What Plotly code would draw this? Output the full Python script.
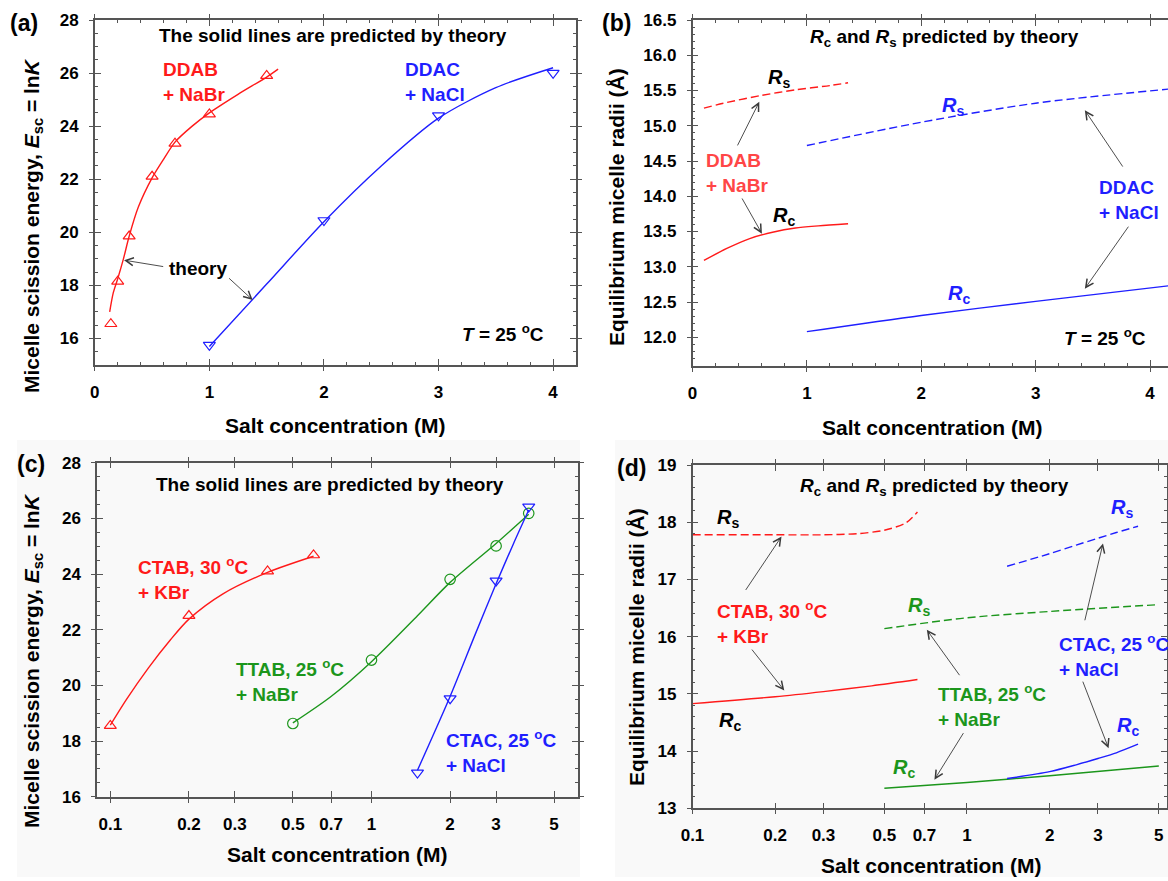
import math
import plotly.graph_objects as go

# ---------------- data ----------------
# (a) scission energy vs salt, linear x
a_ddab_x = [0.14, 0.2, 0.3, 0.5, 0.7, 1.0, 1.5]
a_ddab_y = [16.55, 18.15, 19.85, 22.1, 23.35, 24.45, 25.9]
a_ddab_th_x = [0.13, 0.16, 0.2, 0.25, 0.3, 0.38, 0.5, 0.6, 0.7, 0.85, 1.0, 1.25, 1.5, 1.6]
a_ddab_th_y = [17.0, 17.7, 18.25, 19.0, 19.85, 20.95, 22.05, 22.75, 23.4, 24.0, 24.5, 25.2, 25.85, 26.15]
a_ddac_x = [1.0, 2.0, 3.0, 4.0]
a_ddac_y = [15.75, 20.45, 24.4, 26.0]
a_ddac_th_x = [1.0, 1.5, 2.0, 2.5, 3.0, 3.5, 4.0]
a_ddac_th_y = [15.7, 18.05, 20.4, 22.5, 24.3, 25.45, 26.2]

# (b) radii vs salt, linear x
b_ddab_rs_x = [0.1, 0.3, 0.6, 0.9, 1.2, 1.36]
b_ddab_rs_y = [15.25, 15.33, 15.43, 15.51, 15.57, 15.61]
b_ddab_rc_x = [0.1, 0.3, 0.5, 0.7, 0.9, 1.1, 1.36]
b_ddab_rc_y = [13.09, 13.26, 13.40, 13.49, 13.55, 13.58, 13.61]
b_ddac_rs_x = [1.0, 2.0, 3.0, 4.16]
b_ddac_rs_y = [14.72, 15.05, 15.32, 15.52]
b_ddac_rc_x = [1.0, 2.0, 3.0, 4.16]
b_ddac_rc_y = [12.08, 12.31, 12.51, 12.73]

# (c) scission energy vs salt, log x
c_ctab_x = [0.1, 0.2, 0.4, 0.6]
c_ctab_y = [18.55, 22.5, 24.1, 24.68]
c_ctab_th_x = [0.1, 0.115, 0.14, 0.17, 0.2, 0.27, 0.4, 0.6]
c_ctab_th_y = [18.57, 19.48, 20.63, 21.64, 22.38, 23.29, 24.06, 24.64]
c_ttab_x = [0.5, 1.0, 2.0, 3.0, 4.0]
c_ttab_y = [18.63, 20.91, 23.81, 25.01, 26.18]
c_ttab_th_x = [0.5, 0.7, 1.0, 1.5, 2.0, 3.0, 4.0]
c_ttab_th_y = [18.65, 19.6, 20.85, 22.5, 23.7, 25.1, 26.15]
c_ctac_x = [1.5, 2.0, 3.0, 4.0]
c_ctac_y = [16.86, 19.53, 23.76, 26.42]
c_ctac_th_x = [1.5, 2.0, 2.5, 3.0, 3.5, 4.0]
c_ctac_th_y = [16.95, 19.6, 21.85, 23.65, 25.1, 26.3]

# (d) radii vs salt, log x
d_ctab_rs_x = [0.1, 0.2, 0.3, 0.4, 0.5, 0.6, 0.66]
d_ctab_rs_y = [17.78, 17.78, 17.78, 17.80, 17.86, 17.99, 18.18]
d_ctab_rc_x = [0.1, 0.2, 0.3, 0.45, 0.66]
d_ctab_rc_y = [14.83, 14.95, 15.04, 15.14, 15.25]
d_ttab_rs_x = [0.5, 1.0, 2.0, 5.0]
d_ttab_rs_y = [16.14, 16.33, 16.44, 16.56]
d_ttab_rc_x = [0.5, 1.0, 2.0, 5.0]
d_ttab_rc_y = [13.35, 13.45, 13.57, 13.74]
d_ctac_rs_x = [1.4, 2.0, 2.5, 3.0, 3.5, 4.2]
d_ctac_rs_y = [17.23, 17.45, 17.60, 17.72, 17.82, 17.93]
d_ctac_rc_x = [1.4, 2.0, 2.5, 3.0, 3.5, 4.2]
d_ctac_rc_y = [13.52, 13.64, 13.76, 13.87, 13.97, 14.12]

log_tickvals = [0.1, 0.2, 0.3, 0.5, 0.7, 1, 2, 3, 5]
log_ticktext = ["0.1", "0.2", "0.3", "0.5", "0.7", "1", "2", "3", "5"]

# ---------------- styling ----------------
FONT = "Liberation Sans, Arial, Helvetica, sans-serif"
RED = "#ff1a1a"
RED_B = "#ff4646"
BLUE = "#1f1fff"
GREEN = "#1c961c"
AXC = "#555555"
ARC = "#3a3a3a"

REFS = {1: ("x", "y"), 2: ("x2", "y2"), 3: ("x3", "y3"), 4: ("x4", "y4")}
LOGP = {3, 4}

fig = go.Figure()


def line(p, x, y, color, dash="solid", width=1.4):
    xr, yr = REFS[p]
    fig.add_trace(go.Scatter(x=x, y=y, xaxis=xr, yaxis=yr, mode="lines",
                             line=dict(color=color, width=width, dash=dash, shape="spline", smoothing=0.8),
                             showlegend=False, hoverinfo="skip"))


def marks(p, x, y, color, symbol):
    xr, yr = REFS[p]
    fig.add_trace(go.Scatter(x=x, y=y, xaxis=xr, yaxis=yr, mode="markers",
                             marker=dict(symbol=symbol, size=10.5, color=color, line=dict(color=color, width=1.2)),
                             showlegend=False, hoverinfo="skip"))


def tx(p, v):
    return math.log10(v) if p in LOGP else v


def text(p, s, x, y, color="black", size=19, xanchor="center"):
    xr, yr = REFS[p]
    fig.add_annotation(x=tx(p, x), y=y, xref=xr, yref=yr, text=s, showarrow=False,
                       xanchor=xanchor, yanchor="middle", align="left",
                       font=dict(color=color, size=size, family=FONT, weight="bold"))


def arrow(p, x0, y0, x1, y1):
    xr, yr = REFS[p]
    fig.add_annotation(x=tx(p, x1), y=y1, ax=tx(p, x0), ay=y0, xref=xr, yref=yr, axref=xr, ayref=yr,
                       text="", showarrow=True, arrowhead=5, arrowsize=1.7, arrowwidth=0.9,
                       arrowcolor=ARC, standoff=0, startstandoff=0)


# panel (a)
line(1, a_ddab_th_x, a_ddab_th_y, RED)
marks(1, a_ddab_x, a_ddab_y, RED, "triangle-up-open")
line(1, a_ddac_th_x, a_ddac_th_y, BLUE)
marks(1, a_ddac_x, a_ddac_y, BLUE, "triangle-down-open")
# panel (b)
line(2, b_ddab_rs_x, b_ddab_rs_y, RED, dash="8px,4px")
line(2, b_ddab_rc_x, b_ddab_rc_y, RED)
line(2, b_ddac_rs_x, b_ddac_rs_y, BLUE, dash="8px,4px")
line(2, b_ddac_rc_x, b_ddac_rc_y, BLUE)
# panel (c)
line(3, c_ctab_th_x, c_ctab_th_y, RED)
marks(3, c_ctab_x, c_ctab_y, RED, "triangle-up-open")
line(3, c_ttab_th_x, c_ttab_th_y, GREEN)
marks(3, c_ttab_x, c_ttab_y, GREEN, "circle-open")
line(3, c_ctac_th_x, c_ctac_th_y, BLUE)
marks(3, c_ctac_x, c_ctac_y, BLUE, "triangle-down-open")
# panel (d)
line(4, d_ctab_rs_x, d_ctab_rs_y, RED, dash="8px,4px")
line(4, d_ctab_rc_x, d_ctab_rc_y, RED)
line(4, d_ttab_rs_x, d_ttab_rs_y, GREEN, dash="8px,4px")
line(4, d_ttab_rc_x, d_ttab_rc_y, GREEN)
line(4, d_ctac_rs_x, d_ctac_rs_y, BLUE, dash="8px,4px")
line(4, d_ctac_rc_x, d_ctac_rc_y, BLUE)

# dummy traces so the overlay (crossing-tick) axes are drawn
for k in range(1, 5):
    xr, yr = REFS[k]
    fig.add_trace(go.Scatter(x=[None], y=[None], xaxis=f"x{k+4}", yaxis=yr, showlegend=False, hoverinfo="skip"))
    fig.add_trace(go.Scatter(x=[None], y=[None], xaxis=xr, yaxis=f"y{k+4}", showlegend=False, hoverinfo="skip"))

# ---------------- annotations ----------------
RS = "<i>R</i><sub>s</sub>"
RC = "<i>R</i><sub>c</sub>"
TEMP = "<i>T</i> = 25 <sup>o</sup>C"

text(1, "The solid lines are predicted by theory", 2.08, 27.43)
text(1, "DDAB<br>+ NaBr", 0.578, 25.65, RED, xanchor="left")
text(1, "DDAC<br>+ NaCl", 2.69, 25.65, BLUE, xanchor="left")
text(1, "theory", 0.904, 18.64)
text(1, TEMP, 3.56, 16.19)
arrow(1, 0.61, 18.70, 0.255, 18.95)
arrow(1, 1.159, 18.32, 1.378, 17.45)

text(2, RC + " and " + RS + " predicted by theory", 2.20, 16.24)
text(2, RS, 0.754, 15.67, size=20)
text(2, RC, 0.80, 13.71, size=20)
text(2, "DDAB<br>+ NaBr", 0.098, 14.33, RED_B, xanchor="left")
text(2, RS, 2.28, 15.28, BLUE, size=20)
text(2, RC, 2.33, 12.60, BLUE, size=20)
text(2, "DDAC<br>+ NaCl", 3.54, 13.95, BLUE, xanchor="left")
text(2, TEMP, 3.61, 12.0)
arrow(2, 0.387, 14.70, 0.584, 15.34)
arrow(2, 0.426, 13.99, 0.607, 13.47)
arrow(2, 3.77, 14.40, 3.43, 15.22)
arrow(2, 3.82, 13.59, 3.43, 12.69)

text(3, "The solid lines are predicted by theory", 0.691, 27.2)
text(3, "CTAB, 30 <sup>o</sup>C<br>+ KBr", 0.1257, 23.85, RED, xanchor="left")
text(3, "TTAB, 25 <sup>o</sup>C<br>+ NaBr", 0.298, 20.18, GREEN, xanchor="left")
text(3, "CTAC, 25 <sup>o</sup>C<br>+ NaCl", 1.89, 17.62, BLUE, xanchor="left")

text(4, RC + " and " + RS + " predicted by theory", 0.760, 18.62)
text(4, RS, 0.135, 18.07, size=20)
text(4, RC, 0.137, 14.51, size=20)
text(4, "CTAB, 30 <sup>o</sup>C<br>+ KBr", 0.121, 16.25, RED, xanchor="left")
text(4, RS, 0.671, 16.52, GREEN, size=20)
text(4, RC, 0.591, 13.70, GREEN, size=20)
text(4, "TTAB, 25 <sup>o</sup>C<br>+ NaBr", 0.768, 14.79, GREEN, xanchor="left")
text(4, RS, 3.67, 18.24, BLUE, size=20)
text(4, RC, 3.87, 14.43, BLUE, size=20)
text(4, "CTAC, 25 <sup>o</sup>C<br>+ NaCl", 2.13, 15.67, BLUE, xanchor="left")
arrow(4, 0.155, 16.79, 0.211, 17.75)
arrow(4, 0.163, 15.80, 0.216, 15.06)
arrow(4, 0.948, 15.30, 0.714, 16.12)
arrow(4, 0.978, 14.34, 0.761, 13.50)
arrow(4, 2.68, 16.26, 3.13, 17.63)
arrow(4, 2.63, 15.24, 3.28, 14.05)

W, H = 1168, 881


def paper_text(s, px, py, size, angle=0):
    fig.add_annotation(x=px / W, y=1 - py / H, xref="paper", yref="paper", text=s, showarrow=False,
                       xanchor="center", yanchor="middle", textangle=angle,
                       font=dict(size=size, family=FONT, color="black", weight="bold"))


for lab, px, py in [("(a)", 24, 23), ("(b)", 616, 23), ("(c)", 31, 464), ("(d)", 631, 468)]:
    paper_text(lab, px, py, 23)

# axis titles (placed as in the reference)
XT = "Salt concentration (M)"
YT_E = "Micelle scission energy, <i>E</i><sub>sc</sub> = ln<i>K</i>"
YT_R = "Equilibrium micelle radii (Å)"
paper_text(XT, 335, 425, 21)
paper_text(XT, 932, 427, 21)
paper_text(XT, 337, 854, 21)
paper_text(XT, 931, 865, 21)
paper_text(YT_E, 33, 226, 21, -90)
paper_text(YT_R, 617, 207, 21, -90)
paper_text(YT_E, 33, 661, 21, -90)
paper_text(YT_R, 636, 647, 21, -90)

# light grey background of the lower half
for x0, x1 in [(17, 580), (615, 1168)]:
    fig.add_shape(type="rect", xref="paper", yref="paper", x0=x0 / W, x1=x1 / W, y0=1 - 877 / H, y1=1 - 440 / H,
                  fillcolor="#f9f9f9", line=dict(width=0), layer="below")

# ---------------- axes ----------------
TF = dict(size=17, family=FONT, color="black", weight="bold")


def base(domain, rng, anchor, mirror=True, **kw):
    d = dict(domain=domain, range=rng, anchor=anchor, showline=True, linecolor=AXC, linewidth=1.5,
             ticks="inside", ticklen=6, tickwidth=1.2, tickcolor=AXC, mirror="ticks" if mirror else False,
             showgrid=False, zeroline=False, tickfont=TF, ticklabelstandoff=11, automargin=False)
    d.update(kw)
    return d


def over(overlay, anchor, rng, mirror=True, **kw):
    d = dict(overlaying=overlay, anchor=anchor, range=rng, showline=False, ticks="outside", ticklen=5,
             tickwidth=1.2, tickcolor=AXC, mirror="ticks" if mirror else False, showgrid=False,
             zeroline=False, showticklabels=False, automargin=False)
    d.update(kw)
    return d


def px_x(a, b):
    return [a / W, min(b / W, 1.0)]


def px_y(top, bot):
    return [1 - bot / H, 1 - top / H]


minor_lin = lambda dt: dict(dtick=dt, ticks="inside", ticklen=3, tickwidth=1, tickcolor=AXC)

ra_x, ra_y = [0, 4.2], [15, 28]
rb_x, rb_y = [0, 4.157], [11.6, 16.5]
rc_x, rc_y = [-1.051, 0.790], [16, 28]
rd_x, rd_y = [-1.0, 0.728], [13, 19]

fig.update_layout(
    xaxis=base(px_x(94.8, 576), ra_x, "y", dtick=1, tick0=0, minor=minor_lin(0.2)),
    yaxis=base(px_y(20, 365), ra_y, "x", dtick=2, tick0=0, minor=minor_lin(0.5)),
    xaxis2=base(px_x(692.5, 1168), rb_x, "y2", dtick=1, tick0=0, minor=minor_lin(0.2)),
    yaxis2=base(px_y(20, 365.5), rb_y, "x2", mirror=False, dtick=0.5, tick0=0, tickformat=".1f",
                minor=minor_lin(0.1)),
    xaxis3=base(px_x(97, 577.8), rc_x, "y3", type="log", tickvals=log_tickvals, ticktext=log_ticktext),
    yaxis3=base(px_y(462.7, 796.7), rc_y, "x3", dtick=2, tick0=0, minor=minor_lin(0.5)),
    xaxis4=base(px_x(692.5, 1166.8), rd_x, "y4", type="log", tickvals=log_tickvals, ticktext=log_ticktext),
    yaxis4=base(px_y(465, 808.3), rd_y, "x4", dtick=1, tick0=0, minor=minor_lin(0.2)),
    xaxis5=over("x", "y", ra_x, dtick=1, tick0=0),
    yaxis5=over("y", "x", ra_y, dtick=2, tick0=0),
    xaxis6=over("x2", "y2", rb_x, dtick=1, tick0=0),
    yaxis6=over("y2", "x2", rb_y, mirror=False, dtick=0.5, tick0=0),
    xaxis7=over("x3", "y3", rc_x, type="log", tickvals=log_tickvals),
    yaxis7=over("y3", "x3", rc_y, dtick=2, tick0=0),
    xaxis8=over("x4", "y4", rd_x, type="log", tickvals=log_tickvals),
    yaxis8=over("y4", "x4", rd_y, dtick=1, tick0=0),
    width=W, height=H, margin=dict(l=0, r=0, t=0, b=0, autoexpand=False),
    paper_bgcolor="white", plot_bgcolor="rgba(0,0,0,0)",
    font=dict(family=FONT, size=17, color="black", weight="bold"),
    showlegend=False,
)

# the page's default body margin would shift the figure by 8 px; remove it
fig.write_html("out.html", config={"displayModeBar": False},
               post_script="document.body.style.margin='0';document.body.style.overflow='hidden';")
